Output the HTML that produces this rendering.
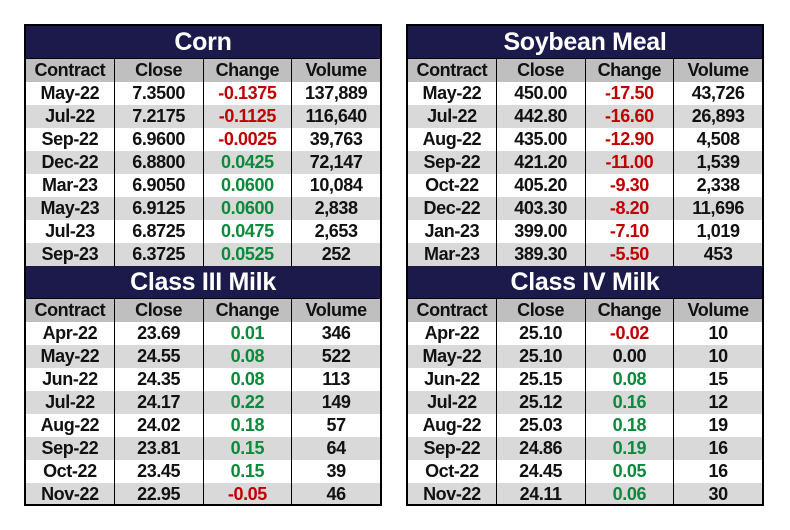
<!DOCTYPE html>
<html><head><meta charset="utf-8"><style>
body{margin:0;width:790px;height:530px;background:#fff;position:relative;overflow:hidden;font-family:"Liberation Sans",sans-serif;}
.t{position:absolute;border:2px solid #000;box-sizing:border-box;width:358px;height:482px;overflow:hidden;}
.row{display:flex;height:23px;line-height:23px;}
.row div{flex:1;text-align:center;font-weight:bold;font-size:18px;letter-spacing:-0.4px;color:#111;border-left:1px solid #000;white-space:nowrap;overflow:hidden;}
.row div:first-child{border-left:none}
.ti{height:32px;line-height:33px;background:#1b1a4b;color:#fff;font-size:25px;font-weight:bold;text-align:center;border-bottom:1px solid #000;letter-spacing:-0.3px;}
.h div{background:#bfbfbf;}
.g div{background:#d9d9d9;}
.row .r{color:#c00000}.row .n{color:#0a8a3a}
</style></head><body>
<div class="t" style="left:24px;top:24px">
<div class="ti">Corn</div>
<div class="row h"><div>Contract</div><div>Close</div><div>Change</div><div>Volume</div></div>
<div class="row"><div>May-22</div><div>7.3500</div><div class="r">-0.1375</div><div>137,889</div></div>
<div class="row g"><div>Jul-22</div><div>7.2175</div><div class="r">-0.1125</div><div>116,640</div></div>
<div class="row"><div>Sep-22</div><div>6.9600</div><div class="r">-0.0025</div><div>39,763</div></div>
<div class="row g"><div>Dec-22</div><div>6.8800</div><div class="n">0.0425</div><div>72,147</div></div>
<div class="row"><div>Mar-23</div><div>6.9050</div><div class="n">0.0600</div><div>10,084</div></div>
<div class="row g"><div>May-23</div><div>6.9125</div><div class="n">0.0600</div><div>2,838</div></div>
<div class="row"><div>Jul-23</div><div>6.8725</div><div class="n">0.0475</div><div>2,653</div></div>
<div class="row g"><div>Sep-23</div><div>6.3725</div><div class="n">0.0525</div><div>252</div></div>
<div class="ti">Class III Milk</div>
<div class="row h"><div>Contract</div><div>Close</div><div>Change</div><div>Volume</div></div>
<div class="row"><div>Apr-22</div><div>23.69</div><div class="n">0.01</div><div>346</div></div>
<div class="row g"><div>May-22</div><div>24.55</div><div class="n">0.08</div><div>522</div></div>
<div class="row"><div>Jun-22</div><div>24.35</div><div class="n">0.08</div><div>113</div></div>
<div class="row g"><div>Jul-22</div><div>24.17</div><div class="n">0.22</div><div>149</div></div>
<div class="row"><div>Aug-22</div><div>24.02</div><div class="n">0.18</div><div>57</div></div>
<div class="row g"><div>Sep-22</div><div>23.81</div><div class="n">0.15</div><div>64</div></div>
<div class="row"><div>Oct-22</div><div>23.45</div><div class="n">0.15</div><div>39</div></div>
<div class="row g"><div>Nov-22</div><div>22.95</div><div class="r">-0.05</div><div>46</div></div>
</div>
<div class="t" style="left:406px;top:24px">
<div class="ti">Soybean Meal</div>
<div class="row h"><div>Contract</div><div>Close</div><div>Change</div><div>Volume</div></div>
<div class="row"><div>May-22</div><div>450.00</div><div class="r">-17.50</div><div>43,726</div></div>
<div class="row g"><div>Jul-22</div><div>442.80</div><div class="r">-16.60</div><div>26,893</div></div>
<div class="row"><div>Aug-22</div><div>435.00</div><div class="r">-12.90</div><div>4,508</div></div>
<div class="row g"><div>Sep-22</div><div>421.20</div><div class="r">-11.00</div><div>1,539</div></div>
<div class="row"><div>Oct-22</div><div>405.20</div><div class="r">-9.30</div><div>2,338</div></div>
<div class="row g"><div>Dec-22</div><div>403.30</div><div class="r">-8.20</div><div>11,696</div></div>
<div class="row"><div>Jan-23</div><div>399.00</div><div class="r">-7.10</div><div>1,019</div></div>
<div class="row g"><div>Mar-23</div><div>389.30</div><div class="r">-5.50</div><div>453</div></div>
<div class="ti">Class IV Milk</div>
<div class="row h"><div>Contract</div><div>Close</div><div>Change</div><div>Volume</div></div>
<div class="row"><div>Apr-22</div><div>25.10</div><div class="r">-0.02</div><div>10</div></div>
<div class="row g"><div>May-22</div><div>25.10</div><div>0.00</div><div>10</div></div>
<div class="row"><div>Jun-22</div><div>25.15</div><div class="n">0.08</div><div>15</div></div>
<div class="row g"><div>Jul-22</div><div>25.12</div><div class="n">0.16</div><div>12</div></div>
<div class="row"><div>Aug-22</div><div>25.03</div><div class="n">0.18</div><div>19</div></div>
<div class="row g"><div>Sep-22</div><div>24.86</div><div class="n">0.19</div><div>16</div></div>
<div class="row"><div>Oct-22</div><div>24.45</div><div class="n">0.05</div><div>16</div></div>
<div class="row g"><div>Nov-22</div><div>24.11</div><div class="n">0.06</div><div>30</div></div>
</div>
</body></html>
